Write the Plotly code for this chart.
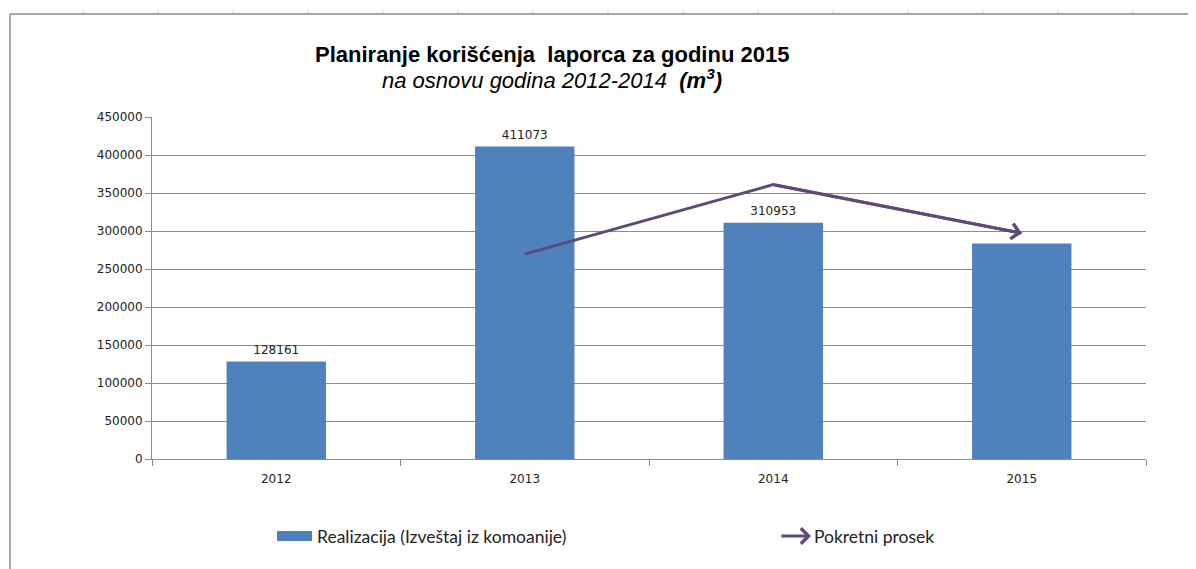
import plotly.graph_objects as go

# ---- data ----
years = ["2012", "2013", "2014", "2015"]
realizacija = [128161, 411073, 310953, 283396]
bar_labels = ["128161", "411073", "310953", ""]
pokretni_prosek = [None, 269617, 361013, 297174]
y_ticks = [0, 50000, 100000, 150000, 200000, 250000, 300000, 350000, 400000, 450000]

BAR = "#4F81BD"
LINE = "#5F497A"
GRID = "#8C8C8C"

OFF = 8  # page body margin
W, H = 1196 - OFF, 569 - OFF
L, R, T, B = 152 - OFF, 50, 117 - OFF, 110
PW, PH = W - L - R, H - T - B


def px(x):  # screen pixel -> paper
    return (x - OFF - L) / PW


def py(y):
    return (H + OFF - B - y) / PH


fig = go.Figure()
fig.add_trace(go.Bar(
    x=years, y=realizacija, marker=dict(color=BAR, line=dict(width=0)),
    name="Realizacija (Izveštaj iz komoanije)", showlegend=False,
))
fig.add_trace(go.Scatter(
    x=years, y=realizacija, mode="markers+text", text=bar_labels,
    textposition="top center", cliponaxis=False,
    marker=dict(size=6, opacity=0),
    textfont=dict(family="DejaVu Sans", size=12, color="#222222"),
    showlegend=False, hoverinfo="skip",
))
fig.add_trace(go.Scatter(
    x=years, y=pokretni_prosek, mode="lines",
    line=dict(color=LINE, width=3), name="Pokretni prosek", showlegend=False,
))

annotations = [
    dict(x=3, y=pokretni_prosek[3], ax=2, ay=pokretni_prosek[2], xref="x", yref="y",
         axref="x", ayref="y", text="", showarrow=True, arrowhead=4, arrowsize=1,
         arrowwidth=3, arrowcolor=LINE),
    dict(x=px(552), y=py(55), xref="paper", yref="paper", showarrow=False,
         xanchor="center", yanchor="middle",
         text="<b>Planiranje korišćenja  laporca za godinu 2015</b>",
         font=dict(family="Liberation Sans", size=22, color="#000000")),
    dict(x=px(552), y=py(79), xref="paper", yref="paper", showarrow=False,
         xanchor="center", yanchor="middle",
         text="<i>na osnovu godina 2012-2014  <b>(m<sup>3</sup>)</b></i>",
         font=dict(family="Liberation Sans", size=22, color="#000000")),
    dict(x=px(315), y=py(536), xref="paper", yref="paper", showarrow=False,
         xanchor="left", yanchor="middle", text="Realizacija (Izveštaj iz komoanije)",
         font=dict(family="Lato", size=17.5, color="#222222")),
    dict(x=px(812), y=py(536), xref="paper", yref="paper", showarrow=False,
         xanchor="left", yanchor="middle", text="Pokretni prosek",
         font=dict(family="Lato", size=17.5, color="#222222")),
    dict(x=px(811), y=py(536), xref="paper", yref="paper", ax=-31, ay=0,
         text="", showarrow=True, arrowhead=4, arrowsize=1, arrowwidth=3,
         arrowcolor=LINE),
]

shapes = [
    dict(type="rect", xref="paper", yref="paper", x0=px(277), x1=px(312),
         y0=py(531), y1=py(541), fillcolor=BAR, line=dict(width=0)),
    dict(type="line", xref="paper", yref="paper", x0=px(10), x1=px(10),
         y0=py(14), y1=py(569), line=dict(color="#A6A6A6", width=2)),
    dict(type="line", xref="paper", yref="paper", x0=px(10), x1=px(1196),
         y0=py(14), y1=py(14), line=dict(color="#A6A6A6", width=2)),
]
for k in range(16):
    xx = 83 + 75 * k
    if xx > 1196:
        break
    shapes.append(dict(type="line", xref="paper", yref="paper", x0=px(xx), x1=px(xx),
                       y0=py(9), y1=py(13), line=dict(color="#D9D9D9", width=1)))

fig.update_layout(
    width=W, height=H, margin=dict(l=L, r=R, t=T, b=B),
    paper_bgcolor="white", plot_bgcolor="white",
    bargap=0.6, showlegend=False,
    annotations=annotations, shapes=shapes,
    xaxis=dict(type="category", showgrid=False, showline=True, linecolor=GRID, linewidth=1,
               ticks="outside", tickson="boundaries", ticklen=6, tickcolor=GRID,
               ticklabelstandoff=9,
               tickfont=dict(family="DejaVu Sans", size=12, color="#222222")),
    yaxis=dict(range=[0, 450000], tickvals=y_ticks, ticktext=[str(v) for v in y_ticks],
               showgrid=True, gridcolor=GRID, gridwidth=1, showline=True, linecolor=GRID,
               ticks="outside", ticklen=6, tickcolor=GRID, zeroline=False,
               tickfont=dict(family="DejaVu Sans", size=12, color="#222222")),
)

fig.write_html("out.html")
